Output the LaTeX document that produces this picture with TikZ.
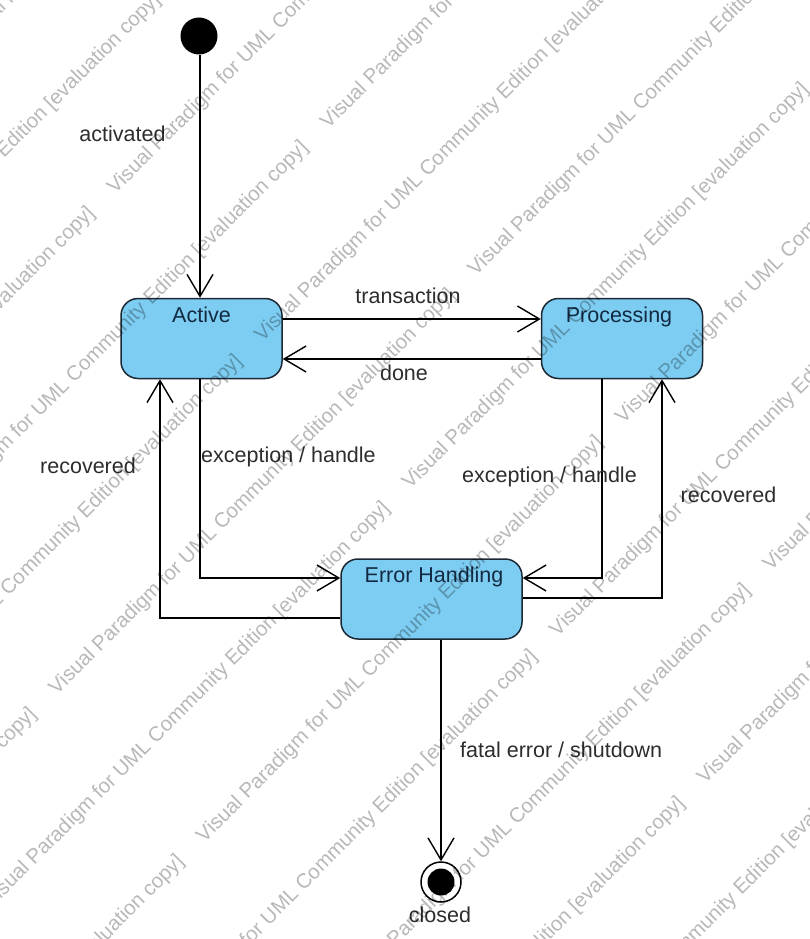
\documentclass[tikz,border=0pt]{standalone}
\usepackage{fontspec}
\setmainfont{Liberation Sans}
\usetikzlibrary{arrows.meta}
\definecolor{statefill}{RGB}{125,205,242}
\definecolor{stateline}{RGB}{28,40,52}
\definecolor{statetext}{RGB}{18,42,66}
\definecolor{labeltext}{RGB}{45,45,45}
\begin{document}
\begin{tikzpicture}[x=1pt,y=-1pt,
  every node/.style={font=\fontsize{21.5}{26}\selectfont},
  state/.style={draw=stateline, line width=1.5pt, fill=statefill,
    rounded corners=17pt, minimum width=161pt, minimum height=80pt, inner sep=0pt},
  statename/.style={text=statetext, inner sep=0pt, anchor=base},
  trlabel/.style={text=labeltext, inner sep=0pt, anchor=base},
  trans/.style={draw=black, line width=1.4pt,
    -{Straight Barb[length=22pt,width=26pt]}},
  watermark/.style={font=\fontsize{20.5}{24}\selectfont, text=black,
    text opacity=0.28, inner sep=0pt, anchor=base west, rotate=45},
]
\useasboundingbox (0,0) rectangle (809,939);
\fill[white] (0,0) rectangle (809,939);

% states
\node[circle, fill=black, minimum size=37pt, inner sep=0pt] (init) at (199,36) {};
\node[state] (active) at (201.5,338.5) {};
\node[statename] (activeName) at (201.5,322) {Active};
\node[state] (proc) at (622,338.5) {};
\node[statename] (procName) at (619,322) {Processing};
\node[state, minimum width=181pt] (err) at (431.5,599) {};
\node[statename] (errName) at (434,582) {Error Handling};
\node[circle, draw=black, line width=1.5pt, minimum size=40pt, inner sep=0pt] (final) at (441,882) {};
\node[circle, fill=black, minimum size=27pt, inner sep=0pt] (finalDot) at (final.center) {};

% transitions
\draw[trans] ([xshift=1pt]init.south) -- ([xshift=1pt]init.south |- active.north);
\draw[trans] ([yshift=19.5pt]active.east) -- ([yshift=19.5pt]proc.west);
\draw[trans] ([yshift=-20.5pt]proc.west) -- ([yshift=-20.5pt]active.east);
\draw[trans] ([xshift=-1.5pt]active.south) |- ([yshift=21pt]err.west);
\draw[trans] ([xshift=-20pt]proc.south) |- ([yshift=21pt]err.east);
\draw[trans] ([yshift=-19pt]err.west) -| ([xshift=-41.5pt]active.south);
\draw[trans] ([yshift=1pt]err.east) -| ([xshift=40pt]proc.south);
\draw[trans] (final.north |- err.south) -- (final.north);

% transition labels
\node[trlabel] (lActivated) at (122.5,142) {activated};
\node[trlabel] (lTransaction) at (408,303) {transaction};
\node[trlabel] (lDone) at (404,380) {done};
\node[trlabel, anchor=base west] (lExcLeft) at (201,462) {exception / handle};
\node[trlabel] (lExcRight) at (549.5,482) {exception / handle};
\node[trlabel] (lRecLeft) at (88,473) {recovered};
\node[trlabel] (lRecRight) at (728.5,502) {recovered};
\node[trlabel, anchor=base west] (lFatal) at (460,757) {fatal error / shutdown};
\node[trlabel] (lClosed) at (440,922) {closed};

% diagonal tool watermark, tiled in rows; odd rows are offset along the row
\begin{scope}
\clip (0,0) rectangle (809,939);
\foreach \k in {-2,...,10} {
  \pgfmathsetmacro\rowsum{310+147.5*\k}
  \ifodd\k \def\rowoff{199}\else \def\rowoff{-80}\fi
  \foreach \m in {-2,...,1} {
    \pgfmathsetmacro\rowdiff{\rowoff+838*\m}
    \node[watermark] (wm\k\m) at ({(\rowsum+\rowdiff)/2},{(\rowsum-\rowdiff)/2})
      {Visual Paradigm for UML Community Edition [evaluation copy]};
  }
}
\end{scope}
\end{tikzpicture}
\end{document}
